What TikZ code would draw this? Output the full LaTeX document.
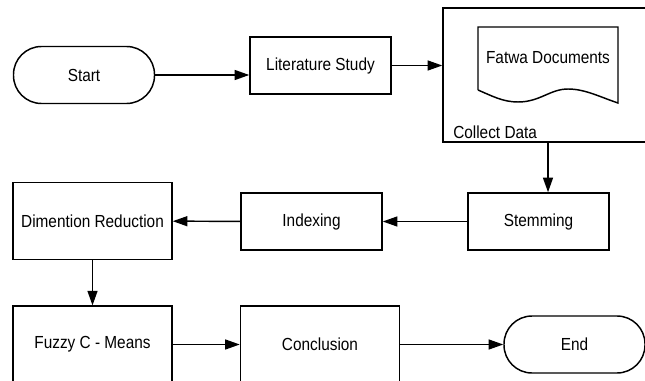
\documentclass[tikz,border=0pt]{standalone}
\usepackage{fontspec}
\setmainfont{Liberation Sans}[FakeStretch=0.88]
\usetikzlibrary{arrows.meta}

\begin{document}
\begin{tikzpicture}[x=0.75pt, y=-0.75pt, >={Triangle[length=11pt, width=7.5pt]},
    font=\fontsize{13.1}{15}\selectfont,
    process/.style ={rectangle, draw, line width=1.1pt, minimum width=105.75pt, minimum height=42.75pt, inner sep=0pt},
    bigprocess/.style ={process, minimum width=119.25pt, minimum height=57.5pt},
    terminal/.style ={process, rounded corners=21pt},
    flow/.style ={line width=1.1pt, ->}]
   \useasboundingbox (0,0) rectangle (645,381);
   \node[terminal] (Start) at (84,75) {Start};
   \node[process] (Lit) at (320.5,65.5) {Literature Study};
   \node[process, minimum width=159pt, minimum height=100.5pt] (Collect) at (549,75) {};
   \node[anchor=west, inner sep=0pt] (CollectLabel) at (453,132) {Collect Data};
   \node (Fatwa) at (548,58) {Fatwa Documents};
   \draw[line width=1.1pt] (478,90) -- (478,27) -- (618,27) -- (618,103)
      .. controls (600,97) and (585,89) .. (568,89)
      .. controls (550,89) and (540,102) .. (518,102)
      .. controls (503,102) and (492,96) .. (478,90);
   \node[process] (Stem) at (538.5,221.5) {Stemming};
   \node[process] (Idx) at (311.5,221.5) {Indexing};
   \node[bigprocess] (Dim) at (92.5,221) {Dimention Reduction};
   \node[bigprocess] (Fuzzy) at (92.5,344.5) {Fuzzy C - Means};
   \node[bigprocess] (Conc) at (320,344.5) {Conclusion};
   \node[terminal] (End) at (574.5,344.5) {End};
   \draw[flow] (Start.east) to (Start.east -| Lit.west);
   \draw[flow] (Lit.east) to (Lit.east -| Collect.west);
   \draw[flow] (Fatwa |- Collect.south) to (Fatwa |- Stem.north);
   \draw[flow] (Stem) to (Idx);
   \draw[flow] (Idx) to (Dim);
   \draw[flow] (Dim) to (Fuzzy);
   \draw[flow] (Fuzzy) to (Conc);
   \draw[flow] (Conc) to (End);
\end{tikzpicture}
\end{document}
